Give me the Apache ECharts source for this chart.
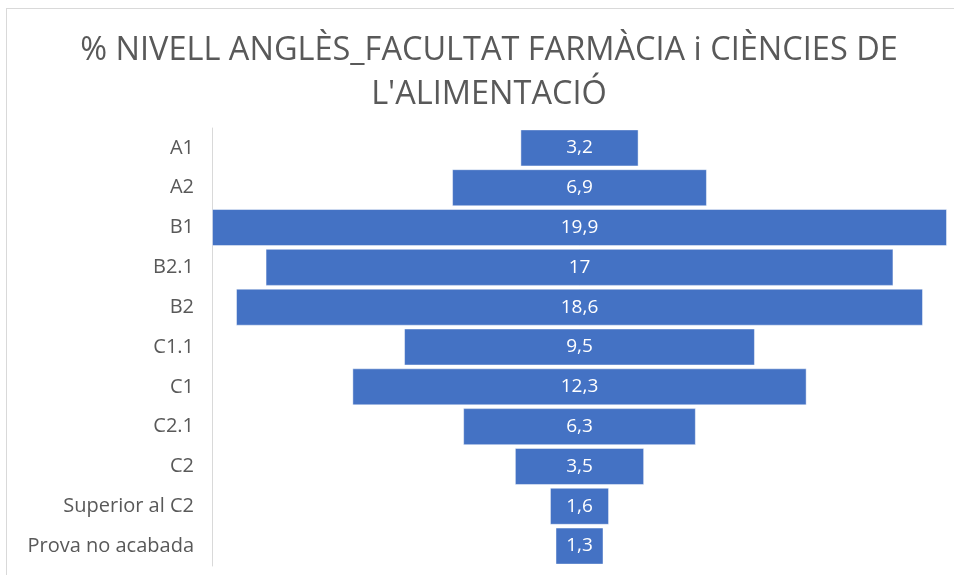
<!DOCTYPE html>
<html>
<head>
<meta charset="utf-8">
<script src="https://cdn.jsdelivr.net/npm/echarts@6/dist/echarts.min.js"></script>
<style>
  html, body { margin: 0; padding: 0; background: #fff; }
  #frame { position: absolute; left: 6px; top: 8px; width: 960px; height: 580px; border: 1px solid #d9d9d9; box-sizing: border-box; }
  #chart { position: absolute; left: 0; top: 0; width: 954px; height: 575px; }
</style>
</head>
<body>
<div id="frame"></div>
<div id="chart"></div>
<script>
const categories = ['A1', 'A2', 'B1', 'B2.1', 'B2', 'C1.1', 'C1', 'C2.1', 'C2', 'Superior al C2', 'Prova no acabada']
const values = [3.2, 6.9, 19.9, 17, 18.6, 9.5, 12.3, 6.3, 3.5, 1.6, 1.3]
const maxValue = 19.9

// invisible offset so each bar sits centred
const offsets = values.map(v => +((maxValue - v) / 2).toFixed(3))

const chart = echarts.init(document.getElementById('chart'))

chart.setOption({
  animation: false,
  title: {
    text: "% NIVELL ANGLÈS_FACULTAT FARMÀCIA i CIÈNCIES DE\nL'ALIMENTACIÓ",
    left: 484,
    textAlign: 'center',
    top: 24,
    textStyle: {
      fontFamily: 'Open Sans',
      fontWeight: 'normal',
      fontSize: 32.5,
      lineHeight: 44,
      color: '#595959',
    },
  },
  grid: { left: 212, right: 7, top: 128, bottom: 9 },
  xAxis: {
    type: 'value',
    min: 0,
    max: maxValue,
    show: false,
  },
  yAxis: {
    type: 'category',
    inverse: true,
    data: categories,
    axisLine: { lineStyle: { color: '#d9d9d9', width: 1 } },
    axisTick: { show: false },
    axisLabel: {
      color: '#595959',
      fontFamily: 'Open Sans',
      fontSize: 20,
      margin: 18,
    },
  },
  series: [
    {
      type: 'bar',
      stack: 'total',
      data: offsets,
      itemStyle: { color: 'transparent' },
      silent: true,
      barCategoryGap: '7%',
    },
    {
      type: 'bar',
      stack: 'total',
      data: values,
      barCategoryGap: '7%',
      itemStyle: {
        color: '#4472c4',
        borderColor: 'rgba(255,255,255,0.45)',
        borderWidth: 1,
      },
      label: {
        show: true,
        position: 'inside',
        color: '#ffffff',
        fontFamily: 'Open Sans',
        fontSize: 19,
        formatter: p => String(p.value).replace('.', ','),
      },
    },
  ],
})
</script>
</body>
</html>
